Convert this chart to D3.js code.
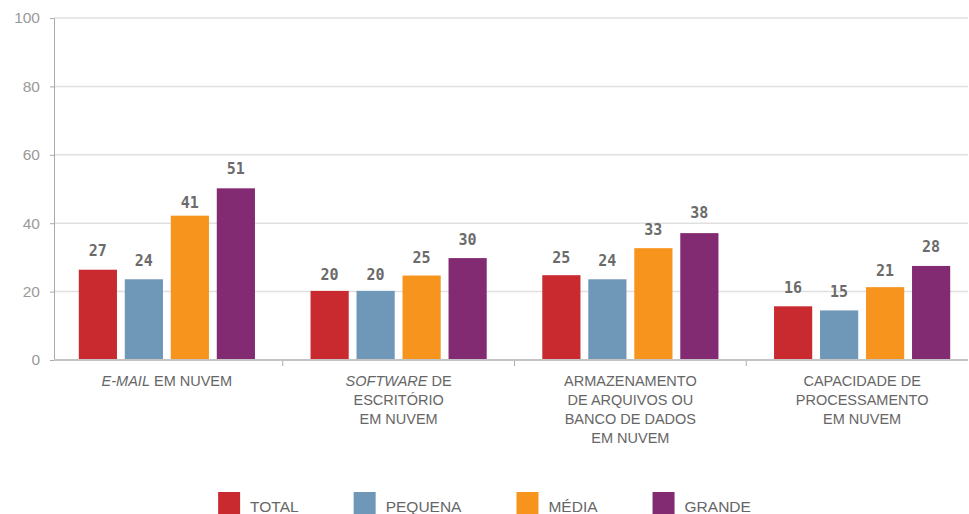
<!DOCTYPE html>
<html>
<head>
<meta charset="utf-8">
<script src="https://cdn.jsdelivr.net/npm/d3@7"></script>
<style>
  body { margin: 0; background: #fff; }
  svg { display: block; }
</style>
</head>
<body>
<div id="vis"></div>
<script>
const W = 969, H = 514;
const margin = { top: 18, right: 1, bottom: 154, left: 54 };
const width = W - margin.left - margin.right;
const height = H - margin.top - margin.bottom;

// category labels, one array per line, italic parts flagged
const categories = [
    [[{ t: 'E-MAIL', i: true }, { t: ' EM NUVEM' }]],
    [[{ t: 'SOFTWARE', i: true }, { t: ' DE' }], [{ t: 'ESCRITÓRIO' }], [{ t: 'EM NUVEM' }]],
    [[{ t: 'ARMAZENAMENTO' }], [{ t: 'DE ARQUIVOS OU' }], [{ t: 'BANCO DE DADOS' }], [{ t: 'EM NUVEM' }]],
    [[{ t: 'CAPACIDADE DE' }], [{ t: 'PROCESSAMENTO' }], [{ t: 'EM NUVEM' }]]
];
const catKeys = ['email', 'software', 'armazenamento', 'capacidade'];

const series = ['TOTAL', 'PEQUENA', 'MÉDIA', 'GRANDE'];
const colors = ['#C92A30', '#6E97B8', '#F7941E', '#832B72'];

// bar heights
const totalBars   = [26.4, 20.2, 24.8, 15.7];
const pequenaBars = [23.6, 20.2, 23.6, 14.5];
const mediaBars   = [42.2, 24.7, 32.7, 21.3];
const grandeBars  = [50.2, 29.8, 37.1, 27.5];
// printed labels
const totalLabels   = [27, 20, 25, 16];
const pequenaLabels = [24, 20, 24, 15];
const mediaLabels   = [41, 25, 33, 21];
const grandeLabels  = [51, 30, 38, 28];

const yTicks = [0, 20, 40, 60, 80, 100];

const barSets = [totalBars, pequenaBars, mediaBars, grandeBars];
const labelSets = [totalLabels, pequenaLabels, mediaLabels, grandeLabels];

const svg = d3.select('#vis').append('svg')
    .attr('width', W).attr('height', H)
    .append('g')
    .attr('transform', `translate(${margin.left},${margin.top})`);

const y = d3.scaleLinear().domain([0, 100]).range([height, 0]);
const x0 = d3.scaleBand().domain(catKeys).range([-3, 924]);
const x1 = d3.scaleBand().domain(series).range([0, x0.bandwidth()])
    .paddingInner(0.17).paddingOuter(0.604);

// grid
svg.selectAll('.grid')
    .data(yTicks.filter(d => d > 0))
    .join('line')
    .attr('class', 'grid')
    .attr('x1', 0).attr('x2', width)
    .attr('y1', d => y(d)).attr('y2', d => y(d))
    .attr('stroke', '#e0e0e0').attr('stroke-width', 1.5);

// y axis
const yAxis = svg.append('g')
    .call(d3.axisLeft(y).tickValues(yTicks).tickSize(4).tickPadding(10));
yAxis.select('.domain').attr('stroke', '#aaa');
yAxis.selectAll('.tick line').attr('stroke', '#aaa');
yAxis.selectAll('.tick text')
    .attr('fill', '#9a9a9a')
    .style('font-family', 'Liberation Sans, Arial, sans-serif')
    .style('font-size', '15.5px');

// bars
const groups = svg.selectAll('.group')
    .data(catKeys)
    .join('g')
    .attr('class', 'group')
    .attr('transform', d => `translate(${x0(d)},0)`);

groups.selectAll('rect')
    .data((d, ci) => series.map((s, si) => ({ s, si, v: barSets[si][ci] })))
    .join('rect')
    .attr('x', d => x1(d.s))
    .attr('width', x1.bandwidth())
    .attr('y', d => y(d.v))
    .attr('height', d => y(0) - y(d.v))
    .attr('fill', d => colors[d.si]);

groups.selectAll('.val')
    .data((d, ci) => series.map((s, si) => ({ s, si, l: labelSets[si][ci] })))
    .join('text')
    .attr('class', 'val')
    .attr('x', d => x1(d.s) + x1.bandwidth() / 2)
    .attr('y', d => y(d.l) - 12)
    .attr('text-anchor', 'middle')
    .attr('fill', '#6b6b6b')
    .style('font-family', 'DejaVu Sans Mono, monospace')
    .style('font-weight', 'bold')
    .style('font-size', '15px')
    .text(d => d.l);

// baseline
svg.append('line')
    .attr('x1', 0).attr('x2', width)
    .attr('y1', y(0)).attr('y2', y(0))
    .attr('stroke', '#c4c4c4').attr('stroke-width', 2);

// separators
svg.selectAll('.sep')
    .data(catKeys.slice(1))
    .join('line')
    .attr('class', 'sep')
    .attr('x1', d => x0(d)).attr('x2', d => x0(d))
    .attr('y1', y(0) + 1).attr('y2', y(0) + 6)
    .attr('stroke', '#aaa');

// category labels
groups.each(function (k, ci) {
    const t = d3.select(this).append('text')
        .attr('text-anchor', 'middle')
        .attr('fill', '#666')
        .style('font-family', 'Liberation Sans, Arial, sans-serif')
        .style('font-size', '14.5px');
    categories[ci].forEach((line, li) => {
        line.forEach((part, pi) => {
            const ts = t.append('tspan').text(part.t);
            if (pi === 0) ts.attr('x', x0.bandwidth() / 2).attr('y', y(0) + 26 + li * 19);
            if (part.i) ts.style('font-style', 'italic');
        });
    });
});

// legend
const legend = d3.select('svg').append('g');
let lx = 0;
series.forEach((s, i) => {
    const item = legend.append('g').attr('transform', `translate(${lx},0)`);
    item.append('rect').attr('x', 0).attr('y', 492).attr('width', 22).attr('height', 22).attr('fill', colors[i]);
    const tx = item.append('text')
        .attr('x', 32).attr('y', 512)
        .attr('fill', '#666')
        .style('font-family', 'Liberation Sans, Arial, sans-serif')
        .style('font-size', '15.5px')
        .text(s);
    lx += 32 + tx.node().getComputedTextLength() + 55;
});
const legendW = lx - 55;
legend.attr('transform', `translate(${(W - legendW) / 2},0)`);
</script>
</body>
</html>
